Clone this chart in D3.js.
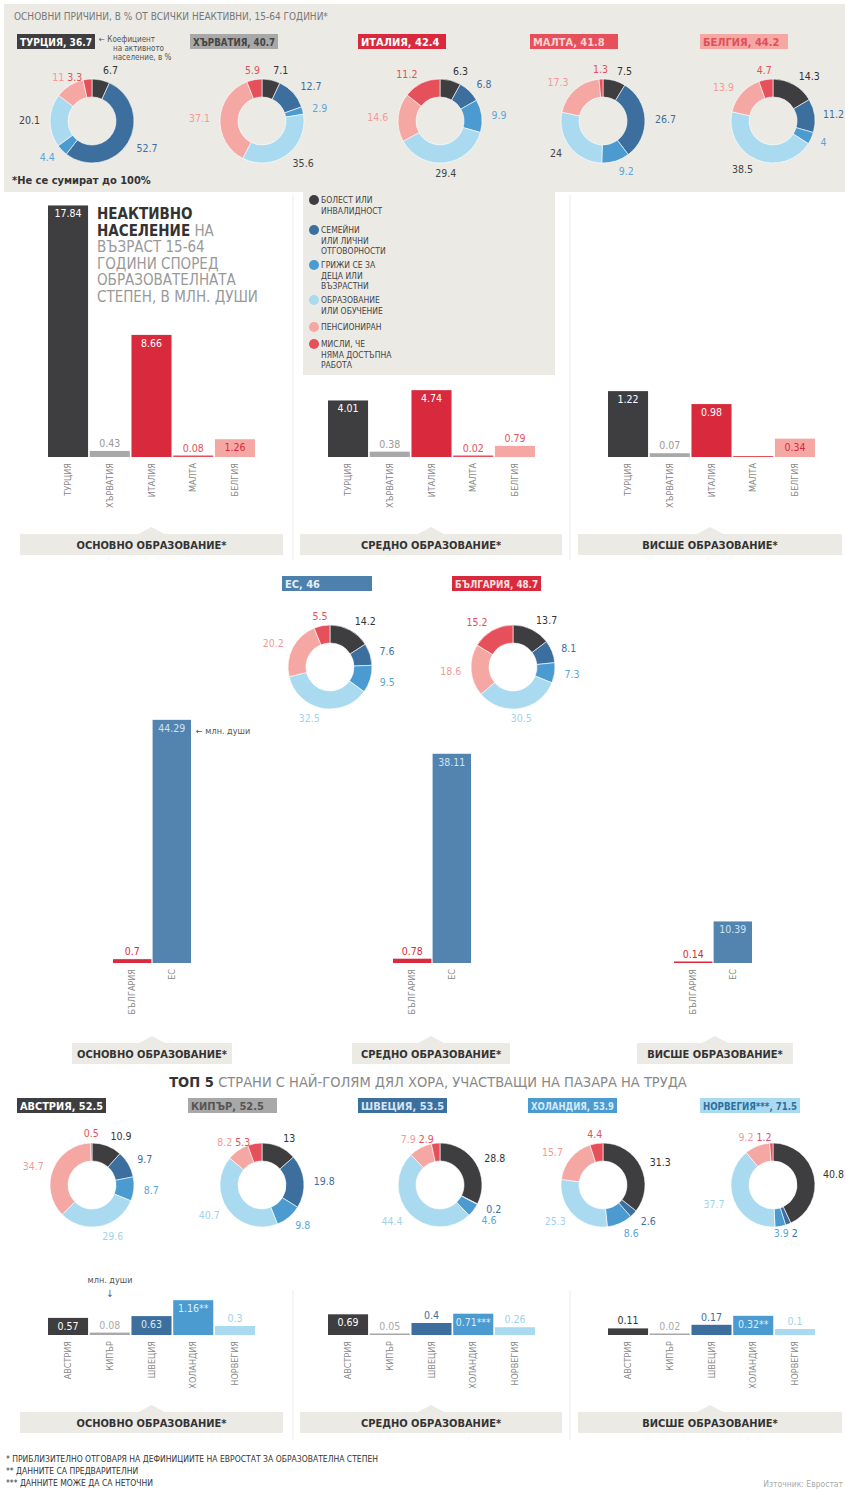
<!DOCTYPE html>
<html>
<head>
<meta charset="utf-8">
<script src="https://cdn.jsdelivr.net/npm/d3@7"></script>
<style>
  body { margin: 0; background: #fff; }
  svg text { font-family: 'Liberation Sans Narrow', 'DejaVu Sans Condensed', 'Open Sans', sans-serif; }
</style>
</head>
<body>
<div id="chart"></div>
<script>
// ---- данни ----
const reasons = ["БОЛЕСТ ИЛИ|ИНВАЛИДНОСТ", "СЕМЕЙНИ|ИЛИ ЛИЧНИ|ОТГОВОРНОСТИ", "ГРИЖИ СЕ ЗА|ДЕЦА ИЛИ|ВЪЗРАСТНИ",
                 "ОБРАЗОВАНИЕ|ИЛИ ОБУЧЕНИЕ", "ПЕНСИОНИРАН", "МИСЛИ, ЧЕ|НЯМА ДОСТЪПНА|РАБОТА"];
const eduLevels = ["ОСНОВНО ОБРАЗОВАНИЕ*", "СРЕДНО ОБРАЗОВАНИЕ*", "ВИСШЕ ОБРАЗОВАНИЕ*"];

// най-нисък коефициент на активност
const lowCountries = ["ТУРЦИЯ", "ХЪРВАТИЯ", "ИТАЛИЯ", "МАЛТА", "БЕЛГИЯ"];
const lowActivity = [36.7, 40.7, 42.4, 41.8, 44.2];
const lowReasons = [
  [6.7, 52.7, 4.4, 20.1, 11, 3.3],
  [7.1, 12.7, 2.9, 35.6, 37.1, 5.9],
  [6.3, 6.8, 9.9, 29.4, 14.6, 11.2],
  [7.5, 26.7, 9.2, 24, 17.3, 1.3],
  [14.3, 11.2, 4, 38.5, 13.9, 4.7]
];
const lowInactive = [
  [17.84, 0.43, 8.66, 0.08, 1.26],
  [4.01, 0.38, 4.74, 0.02, 0.79],
  [1.22, 0.07, 0.98, null, 0.34]
];

// ЕС и България
const cmpNames = ["ЕС", "БЪЛГАРИЯ"];
const cmpActivity = [46, 48.7];
const cmpReasons = [
  [14.2, 7.6, 9.5, 32.5, 20.2, 5.5],
  [13.7, 8.1, 7.3, 30.5, 18.6, 15.2]
];
const cmpBarNames = ["БЪЛГАРИЯ", "ЕС"];
const cmpInactive = [[0.7, 44.29], [0.78, 38.11], [0.14, 10.39]];

// топ 5 по участие на пазара на труда
const topCountries = ["АВСТРИЯ", "КИПЪР", "ШВЕЦИЯ", "ХОЛАНДИЯ", "НОРВЕГИЯ"];
const topBoxNames = ["АВСТРИЯ", "КИПЪР", "ШВЕЦИЯ", "ХОЛАНДИЯ", "НОРВЕГИЯ***"];
const topActivity = [52.5, 52.5, 53.5, 53.9, 71.5];
const topReasons = [
  [10.9, 9.7, 8.7, 29.6, 34.7, 0.5],
  [13, 19.8, 9.8, 40.7, 8.2, 5.3],
  [28.8, 0.2, 4.6, 44.4, 7.9, 2.9],
  [31.3, 2.6, 8.6, 25.3, 15.7, 4.4],
  [40.8, 2, 3.9, 37.7, 9.2, 1.2]
];
const topInactive = [
  [0.57, 0.08, 0.63, 1.16, 0.3],
  [0.69, 0.05, 0.4, 0.71, 0.26],
  [0.11, 0.02, 0.17, 0.32, 0.1]
];
const topNotes = [["", "", "", "**", ""], ["", "", "", "***", ""], ["", "", "", "**", ""]];

const footnotes = ["* ПРИБЛИЗИТЕЛНО ОТГОВАРЯ НА ДЕФИНИЦИИТЕ НА ЕВРОСТАТ ЗА ОБРАЗОВАТЕЛНА СТЕПЕН",
                   "** ДАННИТЕ СА ПРЕДВАРИТЕЛНИ", "*** ДАННИТЕ МОЖЕ ДА СА НЕТОЧНИ"];

// ---- цветове ----
const reasonColors = ["#3e3e40", "#3d6f9e", "#4b9bd1", "#a9daf0", "#f5a7a3", "#e5505a"];
const reasonText = ["#333", "#3d6f9e", "#5aa6d8", "#9fd3ea", "#f29b97", "#e5505a"];
const lowColors = ["#3e3e40", "#a8a8a8", "#d82a3c", "#e5505a", "#f5a7a3"];
const lowBoxText = ["#fff", "#444", "#fff", "#fbd3d3", "#e0505a"];
const lowLabelIn = ["#fff", "#fff", "#fff", "#fff", "#d82a3c"];
const lowLabelOut = ["#333", "#999", "#d82a3c", "#e5505a", "#e5505a"];
const topColors = ["#3e3e40", "#a8a8a8", "#3d6f9e", "#4b9bd1", "#a9daf0"];
const topBoxText = ["#fff", "#555", "#d5e6f4", "#d5ecf8", "#2f6f9e"];
const topLabelIn = ["#fff", "#fff", "#dbe9f5", "#dbeff9", "#3d6f9e"];
const topLabelOut = ["#333", "#aaa", "#3d6f9e", "#9fd3ea", "#9fd3ea"];
const panelBg = "#ebeae5";

const W = 845, H = 1490;
const svg = d3.select("#chart").append("svg").attr("width", W).attr("height", H);

// свива текста, ако не се събира
function fit(sel, maxW) {
  const len = sel.node().getComputedTextLength();
  if (len > maxW) sel.attr("textLength", maxW).attr("lengthAdjust", "spacingAndGlyphs");
}

// фонове
svg.append("rect").attr("x", 4).attr("y", 4).attr("width", W - 4).attr("height", 188).attr("fill", panelBg);
svg.append("rect").attr("x", 303).attr("y", 190).attr("width", 252).attr("height", 185).attr("fill", panelBg);
[[293, 195, 560], [570, 195, 560], [293, 1290, 1440], [570, 1290, 1440]].forEach(l => {
  svg.append("line").attr("x1", l[0]).attr("x2", l[0]).attr("y1", l[1]).attr("y2", l[2])
    .attr("stroke", "#ececec").attr("stroke-width", 1);
});

svg.append("text").attr("x", 14).attr("y", 20).attr("font-size", 10).attr("fill", "#777")
  .text("ОСНОВНИ ПРИЧИНИ, В % ОТ ВСИЧКИ НЕАКТИВНИ, 15-64 ГОДИНИ*");

// етикет в цветна кутия
function nameBox(x, y, w, label, fill, color) {
  svg.append("rect").attr("x", x).attr("y", y).attr("width", w).attr("height", 15).attr("fill", fill);
  const t = svg.append("text").attr("x", x + 3).attr("y", y + 11.5).attr("font-size", 11).attr("font-weight", "bold")
    .attr("fill", color).text(label);
  fit(t, w - 6);
}

// кръгова диаграма с причините
const pie = d3.pie().sort(null).value(d => d);
const arc = d3.arc().innerRadius(24).outerRadius(42);
function donut(cx, cy, values, darkEdu) {
  const g = svg.append("g").attr("transform", `translate(${cx},${cy})`);
  const arcs = pie(values);
  g.selectAll("path").data(arcs).join("path")
    .attr("d", arc).attr("fill", (d, i) => reasonColors[i])
    .attr("stroke", "#fff").attr("stroke-width", 0.6);
  let prev = null;
  arcs.forEach((d, i) => {
    const a = (d.startAngle + d.endAngle) / 2;
    const r = 52;
    let x = Math.sin(a) * r, y = -Math.cos(a) * r + 4;
    let anchor = x > 10 ? "start" : (x < -10 ? "end" : "middle");
    // разместване на близки етикети
    if (prev && Math.abs(y - prev.y) < 11 && Math.abs(x - prev.x) < 24) {
      if (Math.abs(y) > 38) {
        if (y < 0) { x = prev.box.x + prev.box.width + 3; anchor = "start"; }
        else { x = prev.box.x - 3; anchor = "end"; }
        y = prev.y;
      } else {
        y = y >= prev.y ? prev.y + 11 : prev.y - 11;
      }
    }
    const t = g.append("text").attr("x", x).attr("y", y)
      .attr("text-anchor", anchor)
      .attr("font-size", 10.5)
      .attr("fill", (i === 3 && darkEdu) ? "#444" : reasonText[i])
      .text(d.data);
    let box = t.node().getBBox();
    const right = cx + box.x + box.width;
    if (right > W - 1) { t.attr("x", x - (right - W + 1)); box = t.node().getBBox(); }
    prev = {x, y, box};
  });
}

// горен ред
const donutX = [92, 262, 440, 603, 773];
const lowBoxX = [17, 190, 358, 530, 700];
lowCountries.forEach((c, i) => {
  nameBox(lowBoxX[i], 34, i === 0 ? 78 : 88, `${c}, ${lowActivity[i]}`, lowColors[i], lowBoxText[i]);
  donut(donutX[i], 121, lowReasons[i], true);
});
const note = svg.append("text").attr("font-size", 8).attr("fill", "#555");
["← Коефициент", "на активното", "население, в %"].forEach((t, i) => {
  note.append("tspan").attr("x", i === 0 ? 99 : 113).attr("y", 42 + i * 9).text(t);
});
svg.append("text").attr("x", 12).attr("y", 184).attr("font-size", 11).attr("font-weight", "bold")
  .attr("fill", "#333").text("*Не се сумират до 100%");

// легенда
const legY = [200, 230, 265, 300, 327, 344];
reasons.forEach((r, i) => {
  svg.append("circle").attr("cx", 314).attr("cy", legY[i]).attr("r", 5).attr("fill", reasonColors[i]);
  const t = svg.append("text").attr("font-size", 8.5).attr("fill", "#444");
  r.split("|").forEach((line, j) => {
    t.append("tspan").attr("x", 321).attr("y", legY[i] + 3 + j * 10.5).text(line);
  });
});

// заглавие на стълбовете
const title = svg.append("text").attr("font-size", 15).attr("fill", "#999");
[["НЕАКТИВНО", ""], ["НАСЕЛЕНИЕ", " НА"], ["", "ВЪЗРАСТ 15-64"], ["", "ГОДИНИ СПОРЕД"],
 ["", "ОБРАЗОВАТЕЛНАТА"], ["", "СТЕПЕН, В МЛН. ДУШИ"]].forEach((p, i) => {
  const y = 219 + i * 16.5;
  if (p[0]) title.append("tspan").attr("x", 97).attr("y", y).attr("font-weight", "bold").attr("fill", "#333").text(p[0]);
  if (p[1]) {
    const s = title.append("tspan").text(p[1]);
    if (!p[0]) s.attr("x", 97).attr("y", y);
  }
});

// стълбова диаграма
function bars(x0, width, base, pxPerUnit, names, values, colors, labels, inColors, outColors, pad) {
  const g = svg.append("g");
  const x = d3.scaleBand().domain(names).range([x0, x0 + width]).paddingInner(pad);
  const vmax = d3.max(values.filter(v => v != null));
  const y = d3.scaleLinear().domain([0, vmax]).range([base, base - vmax * pxPerUnit]);
  names.forEach((n, i) => {
    const v = values[i];
    const top = v == null ? base - 1 : Math.min(y(v), base - 1.5);
    const h = base - top;
    g.append("rect").attr("x", x(n)).attr("y", top).attr("width", x.bandwidth()).attr("height", h)
      .attr("fill", colors[i]);
    if (v == null) return;
    const inside = h >= 16;
    g.append("text").attr("x", x(n) + x.bandwidth() / 2).attr("y", inside ? top + 12 : top - 4)
      .attr("text-anchor", "middle").attr("font-size", 10.5)
      .attr("fill", inside ? inColors[i] : outColors[i]).text(labels[i]);
  });
  const ax = g.append("g").attr("transform", `translate(0,${base})`)
    .call(d3.axisBottom(x).tickSize(0));
  ax.select(".domain").remove();
  ax.selectAll("text").attr("transform", "rotate(-90)").attr("text-anchor", "end")
    .attr("x", -6).attr("y", 0).attr("dy", "0.35em").attr("font-size", 9).attr("fill", "#888")
    .style("font-family", "'Liberation Sans Narrow', 'DejaVu Sans Condensed', sans-serif");
}

// етикет на степента с триъгълник
function eduBox(x, y, w, label) {
  const cx = x + w / 2;
  svg.append("path").attr("d", `M${cx - 13},${y} L${cx},${y - 7} L${cx + 13},${y} Z`).attr("fill", panelBg);
  svg.append("rect").attr("x", x).attr("y", y).attr("width", w).attr("height", 21).attr("fill", panelBg);
  const t = svg.append("text").attr("x", cx).attr("y", y + 14.5).attr("text-anchor", "middle")
    .attr("font-size", 11).attr("font-weight", "bold").attr("fill", "#333").text(label);
  fit(t, w - 10);
}

const panelX = [48, 328, 608];
const eduX = [[20, 263], [300, 262], [578, 264]];
const lowScale = [14.1, 14.1, 54];
lowInactive.forEach((vals, p) => {
  bars(panelX[p], 207, 457, lowScale[p], lowCountries, vals, lowColors,
       vals.map(v => v == null ? "" : String(v)), lowLabelIn, lowLabelOut, 0.04);
  eduBox(eduX[p][0], 534, eduX[p][1], eduLevels[p]);
});

// ЕС и България
const cmpColors = ["#4d80ad", "#d82a3c"];
nameBox(282, 576, 90, `${cmpNames[0]}, ${cmpActivity[0]}`, cmpColors[0], "#e3eef7");
nameBox(452, 576, 89, `${cmpNames[1]}, ${cmpActivity[1]}`, cmpColors[1], "#fde0e0");
donut(330, 667, cmpReasons[0], false);
donut(513, 667, cmpReasons[1], false);

const cmpPanelX = [113, 393, 674];
const cmpScale = [5.49, 5.49, 4.0];
const cmpEdu = [[72, 160], [352, 158], [637, 156]];
cmpInactive.forEach((vals, p) => {
  bars(cmpPanelX[p], 78, 963, cmpScale[p], cmpBarNames, vals, ["#d82a3c", "#5384b0"],
       vals.map(String), ["#fff", "#cfe3f3"], ["#d82a3c", "#5384b0"], 0.03);
  eduBox(cmpEdu[p][0], 1043, cmpEdu[p][1], eduLevels[p]);
});
svg.append("text").attr("x", 196).attr("y", 734).attr("font-size", 9).attr("fill", "#555").text("← млн. души");

// топ 5
const t5 = svg.append("text").attr("x", 428).attr("y", 1087).attr("text-anchor", "middle")
  .attr("font-size", 14.5).attr("fill", "#888");
t5.append("tspan").attr("font-weight", "bold").attr("fill", "#333").text("ТОП 5 ");
t5.append("tspan").text("СТРАНИ С НАЙ-ГОЛЯМ ДЯЛ ХОРА, УЧАСТВАЩИ НА ПАЗАРА НА ТРУДА");

const topBoxX = [17, 188, 358, 528, 700];
topCountries.forEach((c, i) => {
  nameBox(topBoxX[i], 1098, i === 4 ? 100 : 89, `${topBoxNames[i]}, ${topActivity[i]}`, topColors[i], topBoxText[i]);
  donut(donutX[i], 1185, topReasons[i], false);
});

const topScale = [30, 30, 60];
topInactive.forEach((vals, p) => {
  bars(panelX[p], 207, 1335, topScale[p], topCountries, vals, topColors,
       vals.map((v, i) => v + topNotes[p][i]), topLabelIn, topLabelOut, 0.04);
  eduBox(eduX[p][0], 1412, eduX[p][1], eduLevels[p]);
});
svg.append("text").attr("x", 110).attr("y", 1283).attr("text-anchor", "middle")
  .attr("font-size", 9).attr("fill", "#555").text("млн. души");
svg.append("text").attr("x", 110).attr("y", 1297).attr("text-anchor", "middle")
  .attr("font-size", 10).attr("fill", "#555").text("↓");

// бележки
footnotes.forEach((f, i) => {
  svg.append("text").attr("x", 6).attr("y", 1462 + i * 12).attr("font-size", 8.5).attr("fill", "#333").text(f);
});
svg.append("text").attr("x", 843).attr("y", 1487).attr("text-anchor", "end").attr("font-size", 8.5)
  .attr("fill", "#aaa").text("Източник: Евростат");
</script>
</body>
</html>
